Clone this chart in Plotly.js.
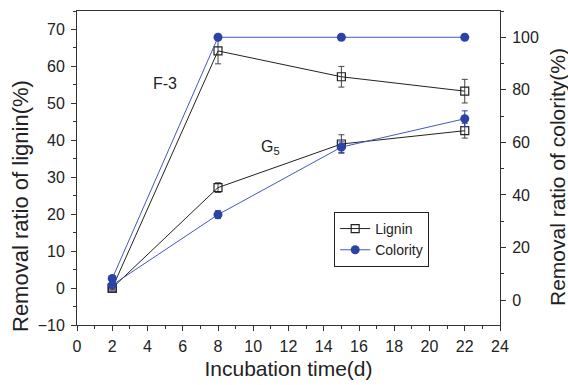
<!DOCTYPE html>
<html>
<head>
<meta charset="utf-8">
<script src="https://cdn.plot.ly/plotly-3.0.1.min.js"></script>
<style>html,body{margin:0;padding:0;background:#fff;}#chart{width:568px;height:385px;}</style>
</head>
<body>
<div id="chart"></div>
<script>
const days = [2, 8, 15, 22];
const ligninF3 = [0, 64.2, 57.2, 53.3];
const ligninF3Err = [0.5, 3.5, 2.8, 3.2];
const ligninG5 = [0, 27.2, 39, 42.6];
const ligninG5Err = [0.5, 1.3, 2.5, 2.0];
const colorityF3 = [8.2, 100, 100, 100];
const colorityF3Err = [0.5, 0, 0, 0];
const colorityG5 = [5.7, 32.5, 58.2, 69];
const colorityG5Err = [0.5, 1.5, 2.0, 3.0];
const xTicks = [0, 2, 4, 6, 8, 10, 12, 14, 16, 18, 20, 22, 24];
const leftTicks = [-10, 0, 10, 20, 30, 40, 50, 60, 70];
const rightTicks = [0, 20, 40, 60, 80, 100];

const black = '#222222';
const blueLine = '#4358bd';
const blueMark = '#2b43a6';
const font = 'Liberation Sans, Arial, sans-serif';

function lig(y, err, show) {
  return {x: days, y: y, type: 'scatter', mode: 'lines+markers', name: 'Lignin',
    showlegend: show, legendgroup: 'l',
    line: {color: black, width: 1},
    marker: {symbol: 'square-open', size: 8, color: black, line: {width: 1.2}},
    error_y: {type: 'data', array: err, visible: true, color: '#444', thickness: 1, width: 3},
    xaxis: 'x', yaxis: 'y'};
}
function col(y, err, show) {
  return {x: days, y: y, type: 'scatter', mode: 'lines+markers', name: 'Colority',
    showlegend: show, legendgroup: 'c',
    line: {color: blueLine, width: 1},
    marker: {symbol: 'circle', size: 9, color: blueMark},
    error_y: {type: 'data', array: err, visible: true, color: blueMark, thickness: 1, width: 3},
    xaxis: 'x', yaxis: 'y2'};
}

const data = [
  lig(ligninF3, ligninF3Err, true),
  lig(ligninG5, ligninG5Err, false),
  col(colorityF3, colorityF3Err, true),
  col(colorityG5, colorityG5Err, false)
];

const pl = 77, pr = 68, pt = 11, pb = 60;
const pw = 568 - pl - pr, ph = 385 - pt - pb;

const layout = {
  width: 568, height: 385,
  margin: {l: pl, r: pr, t: pt, b: pb},
  paper_bgcolor: '#fff', plot_bgcolor: '#fff',
  font: {family: font, size: 16, color: '#222'},
  showlegend: true,
  legend: {x: 0.608, y: 0.36, xanchor: 'left', yanchor: 'top',
    bordercolor: '#222', borderwidth: 1, bgcolor: '#fff',
    font: {family: font, size: 14, color: '#222'}, tracegroupgap: 0, itemwidth: 30},
  xaxis: {range: [0, 24], tickvals: xTicks, ticks: 'outside', ticklen: 5, tickwidth: 1,
    tickcolor: '#333', linecolor: '#333', linewidth: 1, showline: true, mirror: true,
    showgrid: false, zeroline: false, ticklabelstandoff: 2,
    minor: {dtick: 1, ticks: 'outside', ticklen: 3, tickcolor: '#333'},
    tickfont: {size: 16}, title: {text: 'Incubation time(d)', font: {size: 21}, standoff: 7}},
  xaxis2: {range: [0, 24], overlaying: 'x', side: 'top', anchor: 'y', dtick: 1, tick0: 0,
    ticks: 'inside', ticklen: 4, tickcolor: '#333', showticklabels: false,
    showgrid: false, zeroline: false, showline: false},
  yaxis: {range: [-10, 75], tickvals: leftTicks, ticks: 'outside', ticklen: 5,
    tickcolor: '#333', linecolor: '#333', linewidth: 1, showline: true,
    showgrid: false, zeroline: false, ticklabelstandoff: 3,
    minor: {dtick: 5, ticks: 'outside', ticklen: 3, tickcolor: '#333'},
    tickfont: {size: 16}},
  yaxis2: {range: [-9.5, 110], tickvals: rightTicks, overlaying: 'y', side: 'right',
    ticks: 'outside', ticklen: 5, tickcolor: '#333', linecolor: '#333', linewidth: 1,
    showline: true, showgrid: false, zeroline: false, ticklabelstandoff: 3,
    minor: {dtick: 10, ticks: 'outside', ticklen: 3, tickcolor: '#333'},
    tickfont: {size: 16}},
  annotations: [
    {x: 5.0, y: 55.5, xref: 'x', yref: 'y', text: 'F-3', showarrow: false, font: {size: 16}},
    {x: 11.0, y: 38, xref: 'x', yref: 'y', text: 'G<sub>5</sub>', showarrow: false, font: {size: 16}},
    {x: (20 - pl) / pw, y: (385 - pb - 206) / ph, xref: 'paper', yref: 'paper',
      text: 'Removal ratio of lignin(%)',
      textangle: -90, showarrow: false, font: {size: 22}, xanchor: 'center', yanchor: 'middle'},
    {x: (557 - pl) / pw, y: (385 - pb - 177) / ph, xref: 'paper', yref: 'paper',
      text: 'Removal ratio of colority(%)',
      textangle: -90, showarrow: false, font: {size: 21}, xanchor: 'center', yanchor: 'middle'}
  ]
};

Plotly.newPlot('chart', data, layout, {staticPlot: true, displayModeBar: false});
</script>
</body>
</html>
